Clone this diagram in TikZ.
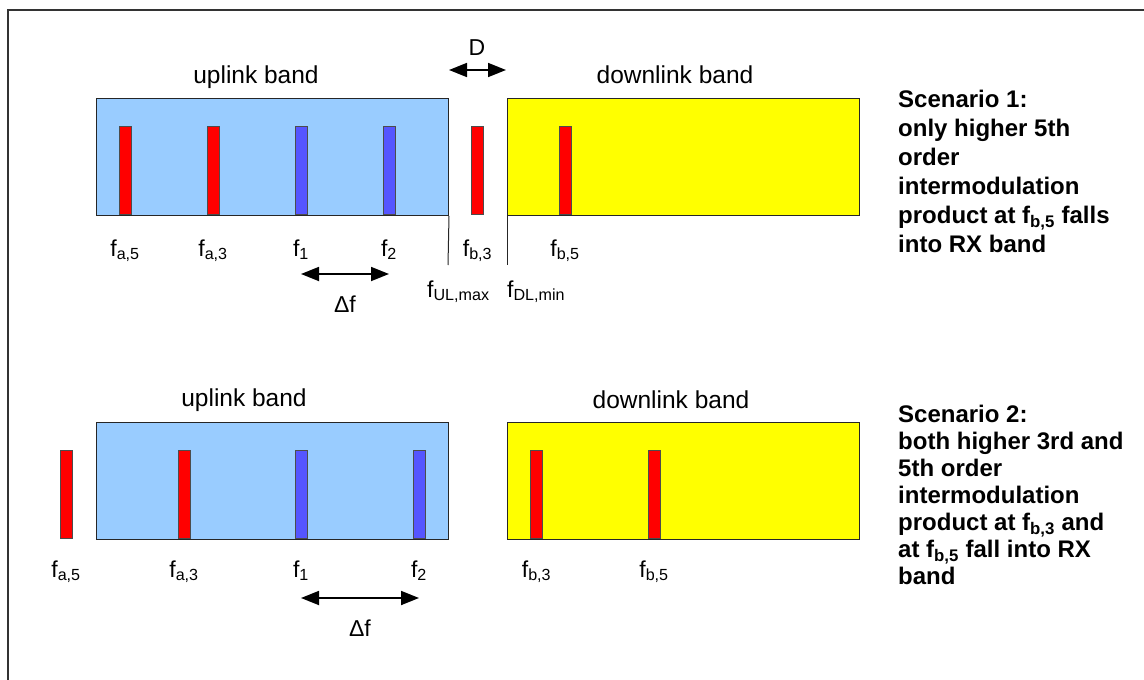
\documentclass[tikz,border=0pt]{standalone}
\usepackage{fontspec}
\setmainfont{Liberation Sans}
\usetikzlibrary{arrows.meta}
\definecolor{ulblue}{HTML}{99CCFF}
\definecolor{dlyellow}{HTML}{FFFF00}
\definecolor{barred}{HTML}{FF0000}
\definecolor{barblue}{HTML}{5555FF}
\newcommand\fs[1]{f\textsubscript{#1}}
\begin{document}
\begin{tikzpicture}[x=1pt,y=-1pt,
  band/.style={draw=black!85, line width=1pt, minimum width=352pt, minimum height=117pt, inner sep=0pt, anchor=north west},
  upband/.style={band, fill=ulblue},
  downband/.style={band, fill=dlyellow},
  bar/.style={draw=black!70, line width=0.8pt, minimum width=12pt, minimum height=88pt, inner sep=0pt, anchor=south},
  redbar/.style={bar, fill=barred},
  bluebar/.style={bar, fill=barblue},
  lbl/.style={font=\fontsize{23}{27}\selectfont, inner sep=0pt, anchor=base},
  bandlbl/.style={font=\fontsize{24.5}{28}\selectfont, inner sep=0pt, anchor=base},
  dimarrow/.style={line width=1.8pt, {Triangle[length=18pt,width=14pt]}-{Triangle[length=18pt,width=14pt]}},
  edgeline/.style={line width=1pt, draw=black!85},
  scen/.style={font=\bfseries\fontsize{24}{29}\selectfont, inner sep=0pt, anchor=north west, align=left}
]
\useasboundingbox (0,0) rectangle (1144,680);
% frame
\draw[line width=1.5pt, draw=black!80] (8,680) -- (8,10) -- (1144,10);

% ---------- Scenario 1 ----------
\node[upband] (ul1) at (96,98) {};
\node[downband] (dl1) at (507,98) {};
\node[bandlbl] (ul1t) at (256,83) {uplink band};
\node[bandlbl] (dl1t) at (675,83) {downlink band};

\node[redbar] (a5t) at (125,215) {};
\node[redbar] (a3t) at (213,215) {};
\node[bluebar] (f1t) at (301,215) {};
\node[bluebar] (f2t) at (389,215) {};
\node[redbar] (b3t) at (477.5,215) {};
\node[redbar] (b5t) at (565,215) {};

\coordinate (ulmaxend) at (448,265);
\coordinate (dlminend) at (507,265);
\draw[edgeline] (ul1.south east) -- (ulmaxend);
\draw[edgeline] (dl1.south west) -- (dlminend);

\node[lbl] (la5t) at (125,256) {\fs{a,5}};
\node[lbl] (la3t) at (213,256) {\fs{a,3}};
\node[lbl] (lf1t) at (301,256) {\fs{1}};
\node[lbl] (lf2t) at (389,256) {\fs{2}};
\node[lbl] (lb3t) at (477.5,256) {\fs{b,3}};
\node[lbl] (lb5t) at (565,256) {\fs{b,5}};
\node[lbl, anchor=base west] (lulmax) at (427,297) {\fs{UL,max}};
\node[lbl, anchor=base west] (ldlmin) at (507,297) {\fs{DL,min}};

\coordinate (dfta) at (301,274);
\coordinate (dftb) at (389,274);
\draw[dimarrow] (dfta) -- (dftb);
\node[lbl] (dft) at (345,312) {Δf};

\coordinate (da) at (449,70);
\coordinate (db) at (506,70);
\draw[dimarrow] (da) -- (db);
\node[lbl] (dlab) at (477,55) {D};

\node[scen] (s1) at (898,90) {Scenario 1:\\only higher 5th\\order\\intermodulation\\product at \fs{b,5} falls\\into RX band};

% ---------- Scenario 2 ----------
\node[upband] (ul2) at (96,422) {};
\node[downband] (dl2) at (507,422) {};
\node[bandlbl] (ul2t) at (244,406) {uplink band};
\node[bandlbl] (dl2t) at (671,408) {downlink band};

\node[redbar] (a5b) at (66,539) {};
\node[redbar] (a3b) at (184,539) {};
\node[bluebar] (f1b) at (301,539) {};
\node[bluebar] (f2b) at (419,539) {};
\node[redbar] (b3b) at (536.5,539) {};
\node[redbar] (b5b) at (654,539) {};

\node[lbl] (la5b) at (66,577) {\fs{a,5}};
\node[lbl] (la3b) at (184,577) {\fs{a,3}};
\node[lbl] (lf1b) at (301,577) {\fs{1}};
\node[lbl] (lf2b) at (419,577) {\fs{2}};
\node[lbl] (lb3b) at (536.5,577) {\fs{b,3}};
\node[lbl] (lb5b) at (654,577) {\fs{b,5}};

\coordinate (dfba) at (301,598);
\coordinate (dfbb) at (419,598);
\draw[dimarrow] (dfba) -- (dfbb);
\node[lbl] (dfb) at (360,636) {Δf};

\node[scen, font=\bfseries\fontsize{24}{27}\selectfont] (s2) at (898,405) {Scenario 2:\\both higher 3rd and\\5th order\\intermodulation\\product at \fs{b,3} and\\at \fs{b,5} fall into RX\\band};
\end{tikzpicture}
\end{document}
